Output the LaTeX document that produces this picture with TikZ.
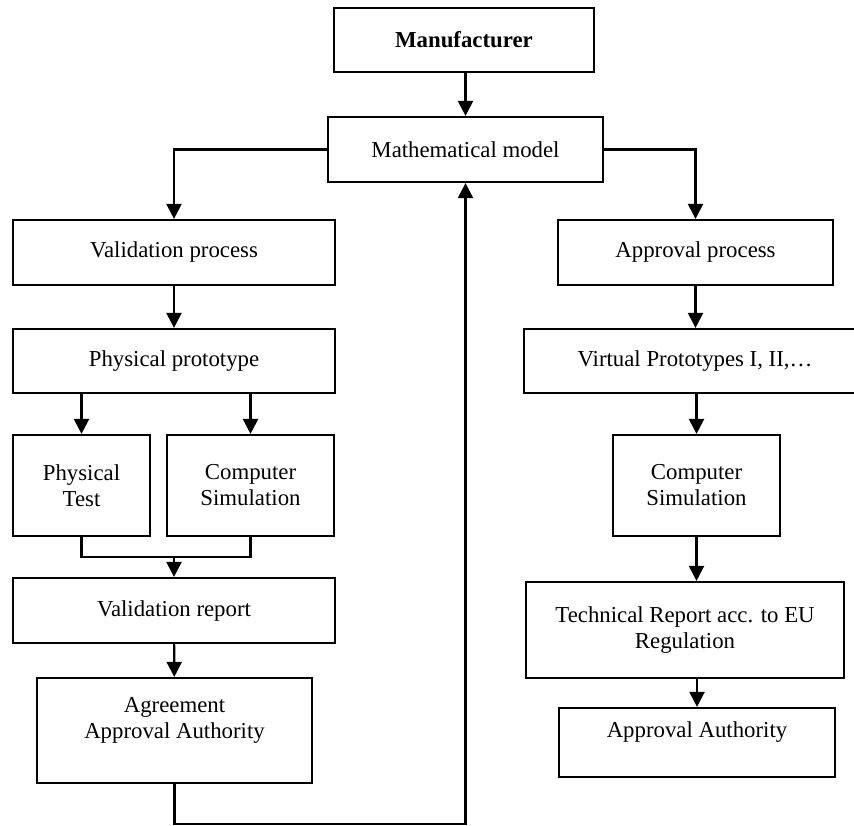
\documentclass[tikz,border=0pt]{standalone}
\usepackage{fontspec}
\setmainfont{Liberation Serif}
\usetikzlibrary{arrows.meta}
\tikzset{
  box/.style={draw, line width=1.1pt, inner sep=0pt, align=center, fill=white},
  sz/.style 2 args={minimum width=#1*0.5pt, minimum height=#2*0.5pt},
  arr/.style={line width=1.1pt, -{Triangle[length=7.5pt,width=7.5pt]}},
  ln/.style={line width=1.1pt}
}
\begin{document}
\begin{tikzpicture}[x=0.5pt, y=-0.5pt, font=\fontsize{11.4}{13}\selectfont, line join=miter]
  \useasboundingbox (0,0) rectangle (854,825);
  % Nodes
  \node[box, sz={260}{64}]  (manu)  at (464,40)      {\textbf{Manufacturer}};
  \node[box, sz={275}{65}]  (model) at (465.5,149.5) {Mathematical model};
  % left branch
  \node[box, sz={322}{65}]  (valp)  at (174,252.5)   {Validation process};
  \node[box, sz={322}{64}]  (phyp)  at (174,361)     {Physical prototype};
  \node[box, sz={137}{101}] (ptest) at (81.5,485.5)  {Physical\\Test};
  \node[box, sz={167}{101}] (csima) at (250.5,485.5) {Computer\\Simulation};
  \node[box, sz={322}{65}]  (vrep)  at (174,610.5)   {Validation report};
  \node[box, sz={275}{105}] (agree) at (174.5,730.5) {Agreement\\Approval Authority\\~};
  % right branch
  \node[box, sz={275}{65}]  (appr)  at (695.5,252.5) {Approval process};
  \node[box, sz={342}{64}]  (virt)  at (695,361)     {Virtual Prototypes I, II,…};
  \node[box, sz={167}{101}] (csimb) at (696.5,485.5) {Computer\\Simulation};
  \node[box, sz={318}{96}]  (tech)  at (685,630)     {Technical Report acc. to EU\\Regulation};
  \node[box, sz={276}{69}]  (auth)  at (697,742.5)   {Approval Authority\\~};
  % Connectors
  \coordinate (jn) at (174,557);
  \coordinate (lp) at (465.5,824);
  \draw[arr] (manu.south -| model.north) -- (model.north);
  \draw[arr] (model.west) -| (valp.north);
  \draw[arr] (model.east) -| (appr.north);
  \draw[arr] (valp) -- (phyp);
  \draw[arr] (ptest.north |- phyp.south) -- (ptest.north);
  \draw[arr] (csima.north |- phyp.south) -- (csima.north);
  \draw[ln] (ptest.south) |- (jn) -| (csima.south);
  \draw[arr] (jn) -- (vrep.north);
  \draw[arr] (vrep) -- (agree);
  \draw[arr] (agree.south) |- (lp) -- (model.south);
  \draw[arr] (appr) -- (virt.north -| appr.south);
  \draw[arr] (csimb.north |- virt.south) -- (csimb.north);
  \draw[arr] (csimb.south) -- (csimb.south |- tech.north);
  \draw[arr] (auth.north |- tech.south) -- (auth.north);
\end{tikzpicture}
\end{document}
